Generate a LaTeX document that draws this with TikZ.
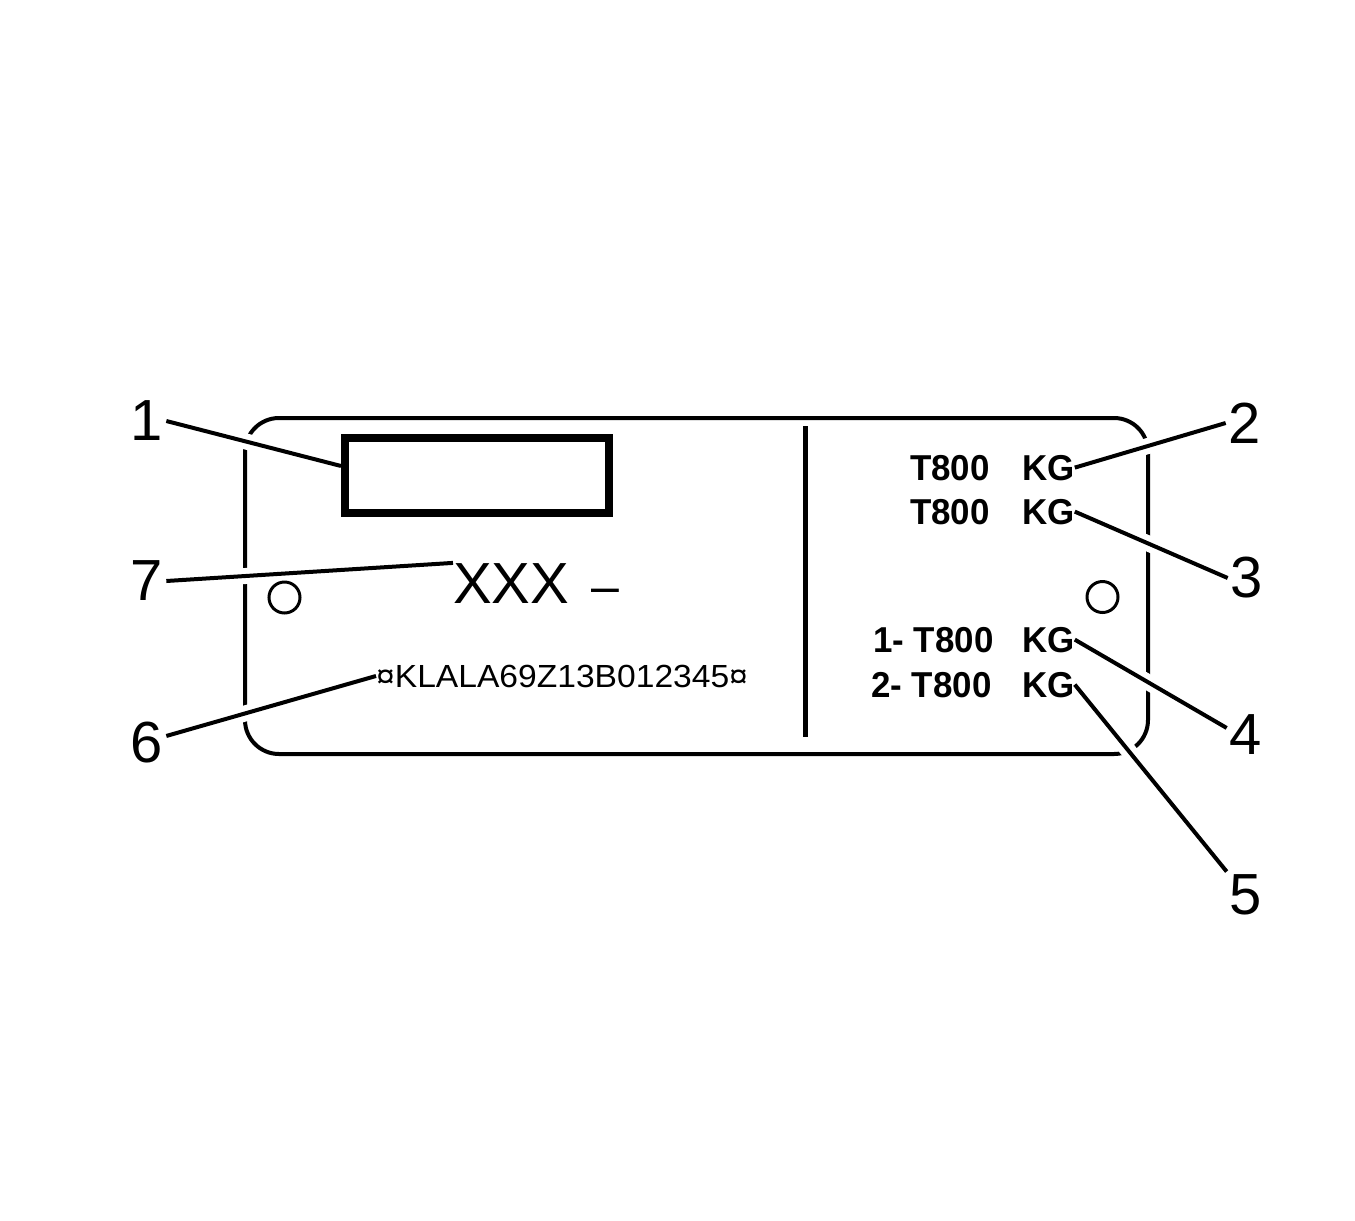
\documentclass[tikz,border=0pt]{standalone}
\usepackage{fontspec}
\setmainfont{Liberation Sans}
\newfontfamily\platebold[FakeStretch=0.97]{Liberation Sans Bold}
\newfontfamily\vinfont[FakeStretch=1.05]{Liberation Sans}
\usetikzlibrary{calc}
\pgfdeclarelayer{background}
\pgfsetlayers{background,main}
\begin{document}
\begin{tikzpicture}[x=1pt,y=-1pt,
  lbl/.style={inner sep=3pt, font=\fontsize{58}{58}\selectfont},
  rowtxt/.style={inner sep=0pt, anchor=base west, font=\platebold\fontsize{36}{36}\selectfont},
  lead/.style={line width=4pt},
  halo/.style={line width=16pt, draw=white},
  plate/.style={line width=4pt, rounded corners=34pt},
  hole/.style={line width=3pt}
]
\useasboundingbox (0,0) rectangle (1355,1221);

% label box and texts on the plate
\node[draw, line width=8pt, minimum width=264pt, minimum height=75pt, inner sep=0pt] (box1) at (477,475.5) {};
\node[anchor=base west, inner sep=0pt, font=\fontsize{58}{58}\selectfont] (xxx) at (453,603) {XXX\hspace{22pt}{\fontsize{50}{50}\selectfont –}};
\node[anchor=base west, inner sep=0pt, font=\vinfont\fontsize{32}{32}\selectfont] (vin) at (376,687) {¤KLALA69Z13B012345¤};

\node[rowtxt] (t1) at (910,480) {T800};
\node[rowtxt] (kg1) at (1022,480) {KG};
\node[rowtxt] (t2) at (910,524) {T800};
\node[rowtxt] (kg2) at (1022,524) {KG};
\node[rowtxt] (t3) at (873,652) {1- T800};
\node[rowtxt] (kg3) at (1022,652) {KG};
\node[rowtxt] (t4) at (871,697) {2- T800};
\node[rowtxt] (kg4) at (1022,697) {KG};

% callout numbers
\node[lbl] (n1) at (147,421) {1};
\node[lbl] (n2) at (1245,423) {2};
\node[lbl] (n3) at (1247,578) {3};
\node[lbl] (n4) at (1246,735) {4};
\node[lbl] (n5) at (1246,895) {5};
\node[lbl] (n6) at (147,743) {6};
\node[lbl] (n7) at (147,581) {7};

% plate outline with gaps where leaders cross
\begin{pgfonlayer}{background}
\draw[plate] (245,418) rectangle (1148,754);
\draw[halo] (n1.east) -- (box1.176);
\draw[halo] (n7.east) -- (xxx.north west);
\draw[halo] (n6.20) -- (vin.west);
\draw[halo] (kg1.east) -- (n2.west);
\draw[halo] (kg2.east) -- (n3.west);
\draw[halo] (kg3.east) -- (n4.160);
\draw[halo] (kg4.east) -- (n5.north west);
\end{pgfonlayer}

% divider and holes
\draw[line width=5pt] (805,426) -- (805,737);
\draw[hole] (284.5,597.5) circle (15.5pt);
\draw[hole] (1102.5,597) circle (15.5pt);

% leaders
\draw[lead] (n1.east) -- (box1.176);
\draw[lead] (n7.east) -- (xxx.north west);
\draw[lead] (n6.20) -- (vin.west);
\draw[lead] (kg1.east) -- (n2.west);
\draw[lead] (kg2.east) -- (n3.west);
\draw[lead] (kg3.east) -- (n4.160);
\draw[lead] (kg4.east) -- (n5.north west);
\end{tikzpicture}
\end{document}
